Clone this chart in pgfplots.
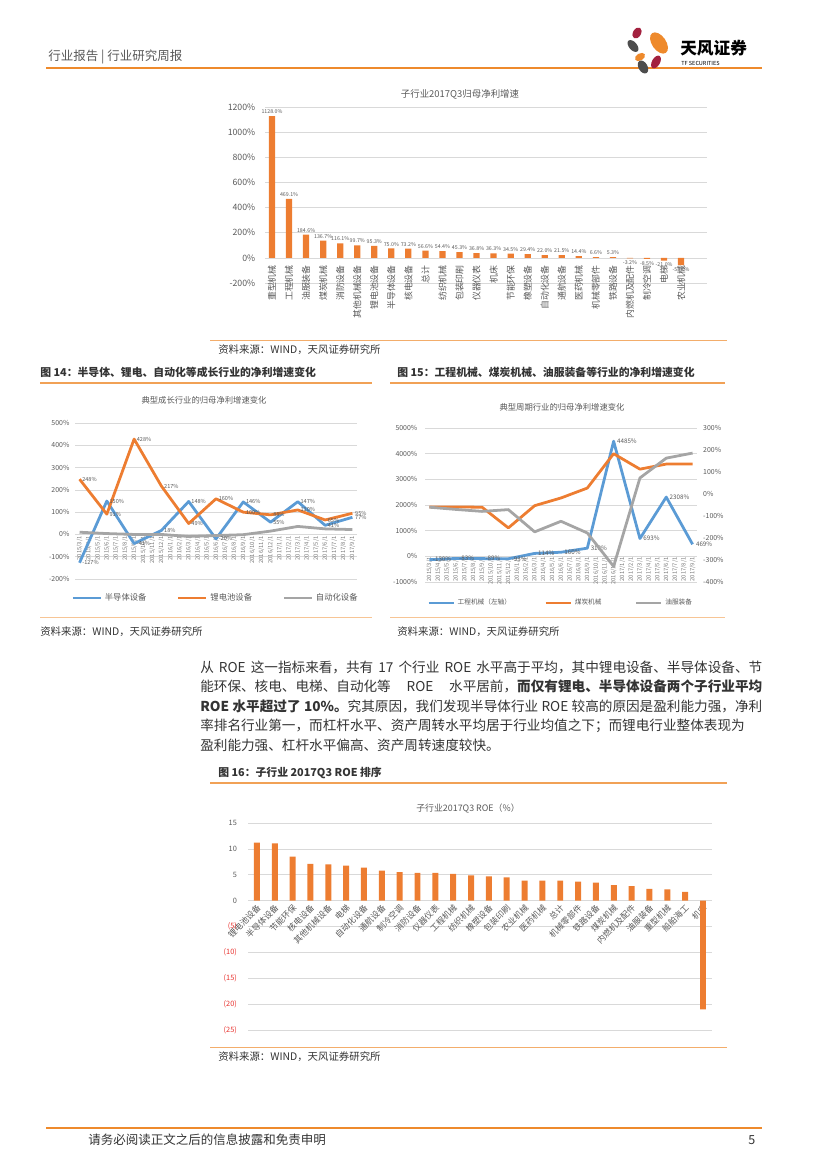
\documentclass[border=0pt]{standalone}
\usepackage{pgfplots}
\pgfplotsset{compat=1.18}
\usepackage{fontspec}
\setmainfont{Noto Sans CJK SC}
\XeTeXlinebreaklocale "zh"
\XeTeXlinebreakskip=0pt plus 1pt
\definecolor{tfor}{HTML}{EE8A2C}
\definecolor{obar}{HTML}{ED7D31}
\definecolor{oblue}{HTML}{5B9BD5}
\definecolor{ogray}{HTML}{A5A5A5}
\definecolor{lbl}{HTML}{595959}
\definecolor{grd}{HTML}{D9D9D9}
\definecolor{txt}{HTML}{333333}
\definecolor{negred}{HTML}{E8322E}
\definecolor{logored}{HTML}{A3213F}
\definecolor{logogray}{HTML}{4D4D4D}
\newcommand\fs[2]{\fontsize{#1bp}{#2bp}\selectfont}
\pgfplotsset{
  base/.style={scale only axis, anchor=south west, clip=false, enlargelimits=false,
    axis line style={draw=none}, major tick length=0pt, tick style={draw=none},
    /pgf/number format/assume math mode=true, /pgf/number format/1000 sep={},
    tick label style={text=lbl}},
  datex/.style={xtick={0,...,30}, xticklabels={2015/3/1,2015/4/1,2015/5/1,2015/6/1,2015/7/1,2015/8/1,2015/9/1,2015/10/1,2015/11/1,2015/12/1,2016/1/1,2016/2/1,2016/3/1,2016/4/1,2016/5/1,2016/6/1,2016/7/1,2016/8/1,2016/9/1,2016/10/1,2016/11/1,2016/12/1,2017/1/1,2017/2/1,2017/3/1,2017/4/1,2017/5/1,2017/6/1,2017/7/1,2017/8/1,2017/9/1}},
}
\begin{document}
\begin{tikzpicture}[x=0.72bp,y=-0.72bp]
\path[use as bounding box] (0,0) rectangle (827,1169);
% ---------- header ----------
\node[anchor=west, inner sep=0pt, font=\fs{9}{10}, text=lbl] at (48,57) {行业报告 | 行业研究周报};
\draw[tfor, line width=1.5bp] (46,68) -- (762,68);
\fill[logored, rotate around={-30:(637,33)}] (637,33) ellipse [x radius=4, y radius=6];
\fill[tfor, rotate around={35:(659,43)}] (659,43) ellipse [x radius=7, y radius=12];
\fill[logogray, rotate around={40:(633,46)}] (633,46) ellipse [x radius=4, y radius=7];
\fill[tfor, rotate around={-60:(640,57)}] (640,57) ellipse [x radius=3.5, y radius=5.5];
\fill[logored, rotate around={-30:(656,62)}] (656,62) ellipse [x radius=4, y radius=7];
\fill[logogray, rotate around={30:(643,67)}] (643,67) ellipse [x radius=4.5, y radius=7];
\node[anchor=west, inner sep=0pt, font=\bfseries\fs{12}{13}] at (680,48) {天风证券};
\node[anchor=west, inner sep=0pt, font=\fs{4}{5}] at (681,63) {TF SECURITIES};
% ---------- chart 1 ----------
\node[font=\fs{6.8}{8}, text=lbl] at (460,94) {子行业2017Q3归母净利增速};
\begin{axis}[base, at={(190.8bp,-203.76bp)}, width=318bp, height=126.7bp,
  xmin=-0.41, xmax=25.5, ymin=-200, ymax=1200,
  ymajorgrids, grid style={grd, line width=0.5bp},
  ytick={-200,0,200,400,600,800,1000,1200},
  yticklabels={-200\%,0\%,200\%,400\%,600\%,800\%,1000\%,1200\%},
  yticklabel style={font=\fs{6.3}{7}, xshift=-3.5bp},
  xtick={0,...,24},
  xticklabels={重型机械,工程机械,油服装备,煤炭机械,消防设备,其他机械设备,锂电池设备,半导体设备,核电设备,总计,纺织机械,包装印刷,仪器仪表,机床,节能环保,橡塑设备,自动化设备,通航设备,医药机械,机械零部件,铁路设备,内燃机及配件,制冷空调,电梯,农业机械},
  xticklabel style={font=\fs{6.4}{7}, inner sep=0pt, yshift=13bp, rotate=90, anchor=east},
  ybar, bar width=4.5bp,
  nodes near coords={\pgfmathprintnumber[fixed,fixed zerofill,precision=1]{\pgfplotspointmeta}\%},
  every node near coord/.append style={font=\fs{3.8}{4.5}, text=lbl, inner sep=1.5bp},
]
\addplot[fill=obar, draw=none] coordinates {(0,1128.0) (1,469.1) (2,184.6) (3,136.7) (4,116.1) (5,99.7) (6,95.3) (7,75.0) (8,73.2) (9,56.6) (10,54.4) (11,45.3) (12,36.8) (13,36.3) (14,34.5) (15,29.4) (16,22.0) (17,21.5) (18,14.4) (19,6.6) (20,5.3) (21,-3.2) (22,-8.5) (23,-21.0) (24,-58.0)};
\end{axis}
\draw[tfor!70, line width=0.5bp] (210,340) -- (727,340);
\node[anchor=west, inner sep=0pt, font=\fs{7.5}{9}, text=txt] at (218,350) {资料来源：WIND，天风证券研究所};
% ---------- captions 14 / 15 ----------
\node[anchor=west, inner sep=0pt, font=\bfseries\fs{7.8}{9}, text=txt] at (40,372) {图 14：半导体、锂电、自动化等成长行业的净利增速变化};
\node[anchor=west, inner sep=0pt, font=\bfseries\fs{7.8}{9}, text=txt] at (397,372) {图 15：工程机械、煤炭机械、油服装备等行业的净利增速变化};
\draw[tfor!80, line width=0.8bp] (40,383) -- (372,383);
\draw[tfor!80, line width=0.8bp] (390,383) -- (725,383);
% ---------- chart 14 ----------
\node[font=\fs{6}{7}, text=lbl] at (204,400) {典型成长行业的归母净利增速变化};
\begin{axis}[base, datex, at={(54bp,-416.88bp)}, width=203bp, height=112.3bp,
  xmin=-0.5, xmax=30.5, ymin=-200, ymax=500,
  ymajorgrids, grid style={grd, line width=0.5bp},
  ytick={-200,-100,...,500}, yticklabels={-200\%,-100\%,0\%,100\%,200\%,300\%,400\%,500\%},
  yticklabel style={font=\fs{5}{6}, xshift=-0.5bp},
  xticklabel style={font=\fs{4.2}{5}, text=lbl!80, yshift=31.7bp, rotate=90, anchor=east, inner sep=0.8bp},
  legend style={at={(0.5,-0.122)}, anchor=center, draw=none, fill=none, legend columns=3, font=\fs{6}{7}, text=lbl, /tikz/every even column/.append style={column sep=20bp}},
  legend image code/.code={\draw[#1] (0bp,0bp) -- (20bp,0bp);},
  every node near coord/.append style={font=\fs{4}{5}, text=lbl, anchor=west, inner sep=1bp},
]
\addplot[oblue, line width=2bp, line join=round, nodes near coords={\pgfmathprintnumber[fixed,precision=0]{\pgfplotspointmeta}\%}] coordinates {(0,-127) (3,150) (6,-41) (9,18) (12,148) (15,-20) (18,146) (21,55) (24,147) (27,41) (30,77)};
\addlegendentry{半导体设备}
\addplot[obar, line width=2bp, line join=round, nodes near coords={\pgfmathprintnumber[fixed,precision=0]{\pgfplotspointmeta}\%}] coordinates {(0,248) (3,91) (6,428) (9,217) (12,49) (15,160) (18,100) (21,88) (24,110) (27,65) (30,95)};
\addlegendentry{锂电池设备}
\addplot[ogray, line width=2bp, line join=round] coordinates {(0,10) (3,4) (6,0) (9,0) (12,-9) (15,-5) (18,-1) (21,15) (24,36) (27,25) (30,22)};
\addlegendentry{自动化设备}
\end{axis}
% ---------- chart 15 ----------
\node[font=\fs{6}{7}, text=lbl] at (562,407) {典型周期行业的归母净利增速变化};
\begin{axis}[base, datex, at={(306bp,-419.04bp)}, width=195.8bp, height=110.9bp,
  xmin=-0.5, xmax=30.5, ymin=-1000, ymax=5000,
  ymajorgrids, grid style={grd, line width=0.5bp},
  ytick={-1000,0,...,5000}, yticklabels={-1000\%,0\%,1000\%,2000\%,3000\%,4000\%,5000\%},
  yticklabel style={font=\fs{5}{6}, xshift=-2bp},
  xticklabel style={font=\fs{4.2}{5}, text=lbl!80, yshift=18.7bp, rotate=90, anchor=east, inner sep=0.8bp},
  every node near coord/.append style={font=\fs{4.5}{5}, text=lbl, anchor=west, inner sep=1.5bp},
]
\addplot[oblue, line width=2bp, line join=round, nodes near coords={\pgfmathprintnumber[fixed,precision=0]{\pgfplotspointmeta}\%}] coordinates {(0,-130) (3,-83) (6,-89) (9,-93) (12,114) (15,160) (18,318) (21,4485) (24,693) (27,2308) (30,469)};
\end{axis}
\begin{axis}[base, at={(306bp,-419.04bp)}, width=195.8bp, height=110.9bp,
  xmin=-0.5, xmax=30.5, ymin=-400, ymax=300, xtick=\empty,
  yticklabel pos=right,
  ytick={-400,-300,...,300}, yticklabels={-400\%,-300\%,-200\%,-100\%,0\%,100\%,200\%,300\%},
  yticklabel style={font=\fs{5}{6}, xshift=1bp},
  legend style={at={(0.5,-0.136)}, anchor=center, draw=none, fill=none, legend columns=3, font=\fs{4.8}{6}, text=lbl, /tikz/every even column/.append style={column sep=22bp}},
  legend image code/.code={\draw[#1] (0bp,0bp) -- (18bp,0bp);},
]
\addlegendimage{oblue, line width=2bp}
\addlegendentry{工程机械（左轴）}
\addplot[obar, line width=2bp, line join=round] coordinates {(0,-59) (3,-59) (6,-60) (9,-154) (12,-53) (15,-18) (18,27) (21,183) (24,113) (27,136) (30,136)};
\addlegendentry{煤炭机械}
\addplot[ogray, line width=2bp, line join=round] coordinates {(0,-60) (3,-70) (6,-79) (9,-71) (12,-172) (15,-124) (18,-177) (21,-329) (24,73) (27,163) (30,186)};
\addlegendentry{油服装备}
\end{axis}
\draw[tfor!50, line width=0.5bp] (40,617) -- (372,617);
\draw[tfor!50, line width=0.5bp] (390,617) -- (725,617);
\node[anchor=west, inner sep=0pt, font=\fs{7.5}{9}, text=txt] at (40,632) {资料来源：WIND，天风证券研究所};
\node[anchor=west, inner sep=0pt, font=\fs{7.5}{9}, text=txt] at (397,632) {资料来源：WIND，天风证券研究所};
% ---------- body text ----------
\begin{scope}[every node/.style={anchor=west, inner sep=0pt, font=\fs{9.8}{14}, text=txt}]
\node at (200,667) {\hbox to 404.6bp{从 ROE 这一指标来看，共有 17 个行业 ROE 水平高于平均，其中锂电设备、半导体设备、节}};
\node at (200,686.5) {\hbox to 404.6bp{能环保、核电、电梯、自动化等 ROE 水平居前，\textbf{而仅有锂电、半导体设备两个子行业平均}}};
\node at (200,706) {\hbox to 404.6bp{\textbf{ROE 水平超过了 10\%。}究其原因，我们发现半导体行业 ROE 较高的原因是盈利能力强，净利}};
\node at (200,725.5) {\hbox to 404.6bp{率排名行业第一，而杠杆水平、资产周转水平均居于行业均值之下；而锂电行业整体表现为}};
\node at (200,745) {盈利能力强、杠杆水平偏高、资产周转速度较快。};
\end{scope}
% ---------- chart 16 ----------
\node[anchor=west, inner sep=0pt, font=\bfseries\fs{7.8}{9}, text=txt] at (218,773) {图 16：子行业 2017Q3 ROE 排序};
\draw[tfor!80, line width=0.8bp] (210,783) -- (727,783);
\node[font=\fs{6.4}{8}, text=lbl] at (468,809) {子行业2017Q3 ROE（\%）};
\begin{axis}[base, at={(178.56bp,-741.6bp)}, width=334bp, height=149bp,
  xmin=-0.5, xmax=25.5, ymin=-25, ymax=15,
  ymajorgrids, grid style={grd, line width=0.5bp},
  ytick={-25,-20,...,15},
  yticklabels={\textcolor{negred}{(25)},\textcolor{negred}{(20)},\textcolor{negred}{(15)},\textcolor{negred}{(10)},\textcolor{negred}{(5)},0,5,10,15},
  yticklabel style={font=\fs{5.3}{6}, xshift=-4.5bp},
  xtick={0,...,25},
  xticklabels={锂电池设备,半导体设备,节能环保,核电设备,其他机械设备,电梯,自动化设备,通航设备,制冷空调,消防设备,仪器仪表,工程机械,纺织机械,橡塑设备,包装印刷,农业机械,医药机械,总计,机械零部件,铁路设备,煤炭机械,内燃机及配件,油服装备,重型机械,船舶海工,机床},
  xticklabel style={font=\fs{6}{7}, xshift=2bp, yshift=89.3bp, rotate=45, anchor=east, inner sep=0.5bp},
  ybar, bar width=4.3bp,
]
\addplot[fill=obar, draw=none] coordinates {(0,11.2) (1,11.1) (2,8.5) (3,7.1) (4,7.0) (5,6.8) (6,6.4) (7,5.8) (8,5.5) (9,5.4) (10,5.4) (11,5.2) (12,4.9) (13,4.7) (14,4.5) (15,3.9) (16,3.9) (17,3.9) (18,3.7) (19,3.5) (20,3.0) (21,2.8) (22,2.3) (23,2.2) (24,1.7) (25,-21.0)};
\end{axis}
\draw[tfor!70, line width=0.6bp] (210,1047) -- (727,1047);
\node[anchor=west, inner sep=0pt, font=\fs{7.5}{9}, text=txt] at (218,1057) {资料来源：WIND，天风证券研究所};
% ---------- footer ----------
\draw[tfor, line width=1.2bp] (46,1128) -- (762,1128);
\node[anchor=west, inner sep=0pt, font=\fs{9}{10}, text=txt] at (88,1140) {请务必阅读正文之后的信息披露和免责申明};
\node[anchor=west, inner sep=0pt, font=\fs{9}{10}, text=txt] at (748,1140) {5};
\end{tikzpicture}
\end{document}
